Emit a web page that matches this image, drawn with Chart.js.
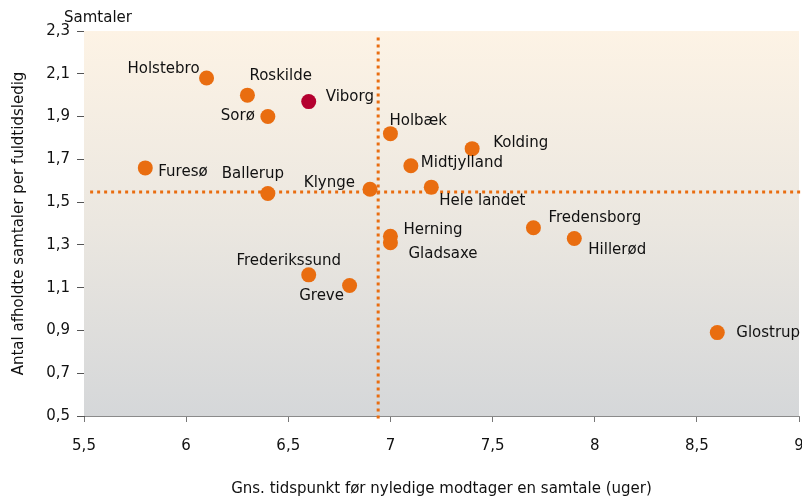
<!DOCTYPE html>
<html>
<head>
<meta charset="utf-8">
<script src="https://cdn.jsdelivr.net/npm/chart.js@4.4.1/dist/chart.umd.min.js"></script>
<style>
  html, body { margin: 0; padding: 0; background: #fff; overflow: hidden; }
  #wrap { position: relative; width: 802px; height: 499px; }
</style>
</head>
<body>
<div id="wrap"><canvas id="chart"></canvas></div>
<script>
// Data
const names = ["Holstebro", "Roskilde", "Viborg", "Sorø", "Furesø", "Ballerup", "Klynge",
  "Holbæk", "Kolding", "Midtjylland", "Hele landet", "Fredensborg", "Hillerød",
  "Herning", "Gladsaxe", "Frederikssund", "Greve", "Glostrup"];
const weeks = [6.1, 6.3, 6.6, 6.4, 5.8, 6.4, 6.9, 7.0, 7.4, 7.1, 7.2, 7.7, 7.9, 7.0, 7.0, 6.6, 6.8, 8.6];
const talks = [2.08, 2.0, 1.97, 1.9, 1.66, 1.54, 1.56, 1.82, 1.75, 1.67, 1.57, 1.38, 1.33, 1.34, 1.31, 1.16, 1.11, 0.89];
const highlight = "Viborg";

// averages shown as dotted cross lines
const avgWeeks = [6.94, 6.94];
const avgWeeksY = [2.27, 0.47];
const avgTalksX = [5.53, 9.02];
const avgTalks = [1.547, 1.547];

const xTicks = [5.5, 6, 6.5, 7, 7.5, 8, 8.5, 9];
const yTicks = [0.5, 0.7, 0.9, 1.1, 1.3, 1.5, 1.7, 1.9, 2.1, 2.3];

const orange = "#E96D10";
const red = "#B4002F";
const FONT = "DejaVu Sans";

// label placement: [align, dx, dy]
const labelPos = {
  "Holstebro": ["right", -7, -9],
  "Roskilde": ["left", 2, -19],
  "Viborg": ["left", 17, -4],
  "Sorø": ["right", -13, 0],
  "Furesø": ["left", 13, 4],
  "Ballerup": ["center", -15, -19],
  "Klynge": ["right", -15, -6],
  "Holbæk": ["left", -1, -13],
  "Kolding": ["left", 21, -6],
  "Midtjylland": ["left", 10, -3],
  "Hele landet": ["left", 8, 14],
  "Fredensborg": ["left", 15, -10],
  "Hillerød": ["left", 14, 12],
  "Herning": ["left", 13, -6],
  "Gladsaxe": ["left", 18, 11],
  "Frederikssund": ["center", -20, -14],
  "Greve": ["center", -28, 11],
  "Glostrup": ["left", 19, 1]
};

const points = names.map((n, i) => ({ x: weeks[i], y: talks[i] }));
const colors = names.map((n) => (n === highlight ? red : orange));

const comma = (v, d) => Number(v).toFixed(d).replace(".", ",");

// gradient backdrop of the plot area
const backdrop = {
  id: "backdrop",
  beforeDatasetsDraw(chart) {
    const { ctx, chartArea: a } = chart;
    const g = ctx.createLinearGradient(0, a.top, 0, a.bottom);
    g.addColorStop(0, "#FDF3E5");
    g.addColorStop(0.5, "#EBE7E0");
    g.addColorStop(1, "#D5D7D9");
    ctx.save();
    ctx.fillStyle = g;
    ctx.fillRect(a.left, a.top, a.right - a.left, a.bottom - a.top);
    ctx.restore();
  }
};

// point names and unit label
const pointLabels = {
  id: "pointLabels",
  afterDatasetsDraw(chart) {
    const ctx = chart.ctx;
    const meta = chart.getDatasetMeta(2);
    ctx.save();
    ctx.font = "15px '" + FONT + "'";
    ctx.fillStyle = "#111";
    ctx.textBaseline = "middle";
    meta.data.forEach((el, i) => {
      const p = labelPos[names[i]] || ["left", 10, 0];
      ctx.textAlign = p[0];
      ctx.fillText(names[i], el.x + p[1], el.y + p[2]);
    });
    ctx.textAlign = "left";
    ctx.fillText("Samtaler", 64, 18);
    ctx.restore();
  }
};

const tickFont = { family: FONT, size: 15 };

new Chart(document.getElementById("chart"), {
  type: "scatter",
  data: {
    datasets: [
      {
        type: "line",
        data: avgWeeksY.map((y, i) => ({ x: avgWeeks[i], y: y })),
        borderColor: orange,
        borderWidth: 3,
        borderDash: [3, 4],
        pointRadius: 0,
        clip: false,
        order: 3
      },
      {
        type: "line",
        data: avgTalksX.map((x, i) => ({ x: x, y: avgTalks[i] })),
        borderColor: orange,
        borderWidth: 3,
        borderDash: [3, 4],
        pointRadius: 0,
        clip: false,
        order: 2
      },
      {
        data: points,
        backgroundColor: colors,
        borderColor: colors,
        pointRadius: 7.5,
        pointHoverRadius: 7.5,
        borderWidth: 0,
        order: 1
      }
    ]
  },
  options: {
    responsive: true,
    maintainAspectRatio: false,
    animation: false,
    devicePixelRatio: 1,
    layout: { autoPadding: false, padding: { top: 31, right: 3, left: 0, bottom: 0 } },
    plugins: { legend: { display: false }, tooltip: { enabled: false } },
    scales: {
      x: {
        type: "linear",
        min: xTicks[0],
        max: xTicks[xTicks.length - 1],
        afterBuildTicks: (s) => { s.ticks = xTicks.map((v) => ({ value: v })); },
        afterFit: (s) => { s.height = 83; s.paddingLeft = 0; s.paddingRight = 0; },
        ticks: {
          font: tickFont,
          color: "#111",
          padding: 15,
          callback: (v) => (Number.isInteger(v) ? String(v) : comma(v, 1))
        },
        grid: { drawOnChartArea: false, drawTicks: true, tickLength: 6, color: "#777" },
        border: { display: true, color: "#8a8a8a", width: 1 },
        title: {
          display: true,
          text: "Gns. tidspunkt før nyledige modtager en samtale (uger)",
          font: tickFont,
          color: "#111",
          padding: { top: 0, bottom: 1 }
        }
      },
      y: {
        type: "linear",
        min: yTicks[0],
        max: yTicks[yTicks.length - 1],
        afterBuildTicks: (s) => { s.ticks = yTicks.map((v) => ({ value: v })); },
        afterFit: (s) => { s.width = 84; },
        ticks: {
          font: tickFont,
          color: "#111",
          padding: 7,
          callback: (v) => comma(v, 1)
        },
        grid: { drawOnChartArea: false, drawTicks: true, tickLength: 7, color: "#555" },
        border: { display: true, color: "#555", width: 1 },
        title: {
          display: true,
          text: "Antal afholdte samtaler per fuldtidsledig",
          font: tickFont,
          color: "#111",
          padding: { top: 10, bottom: 0 }
        }
      }
    }
  },
  plugins: [backdrop, pointLabels]
});
</script>
</body>
</html>
